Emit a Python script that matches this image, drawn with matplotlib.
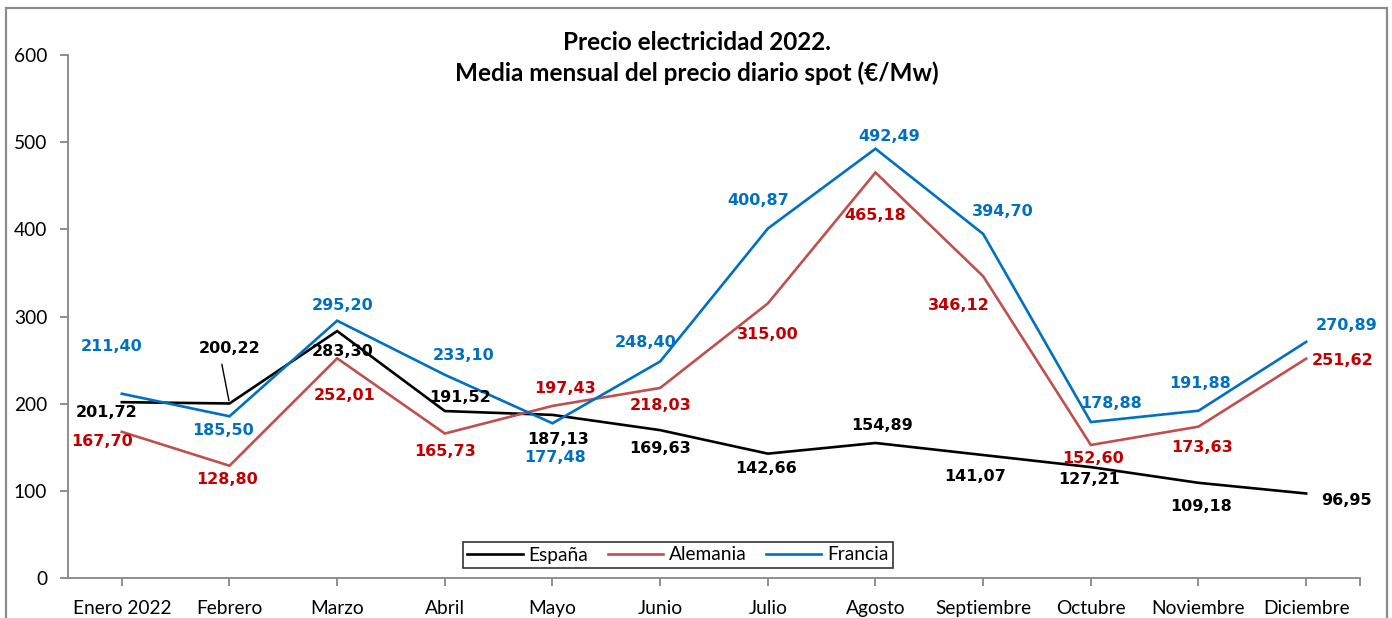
import matplotlib
matplotlib.use("Agg")
import matplotlib.pyplot as plt
from matplotlib.patches import Rectangle

months = ["Enero 2022", "Febrero", "Marzo", "Abril", "Mayo", "Junio", "Julio",
          "Agosto", "Septiembre", "Octubre", "Noviembre", "Diciembre"]
espana = [201.72, 200.22, 283.30, 191.52, 187.13, 169.63, 142.66, 154.89, 141.07, 127.21, 109.18, 96.95]
alemania = [167.70, 128.80, 252.01, 165.73, 197.43, 218.03, 315.00, 465.18, 346.12, 152.60, 173.63, 251.62]
francia = [211.40, 185.50, 295.20, 233.10, 177.48, 248.40, 400.87, 492.49, 394.70, 178.88, 191.88, 270.89]

# label offsets in pixels (dx, dy) relative to each point
off_esp = [(-15, -10), (0, 55), (5, -20), (15, 14), (6, -25), (0, -18),
           (-2, -15), (7, 17), (-8, -21), (-2, -12), (3, -24), (40, -7)]
off_ale = [(-20, -10), (-2, -14), (7, -37), (0, -18), (13, 17), (0, -18),
           (0, -31), (0, -43), (-24, -29), (2, -14), (4, -21), (36, -2)]
off_fra = [(-10, 47), (-6, -14), (5, 15), (19, 19), (3, -34), (-15, 19),
           (-10, 28), (14, 12), (20, 22), (20, 19), (2, 27), (40, 16)]

series = [
    ("España", espana, "black", "black", off_esp),
    ("Alemania", alemania, "#C0504D", "#C00000", off_ale),
    ("Francia", francia, "#0070C0", "#0070C0", off_fra),
]

fig = plt.figure(figsize=(13.92, 6.18), dpi=100)
ax = fig.add_axes([68 / 1392, 40 / 618, 1292 / 1392, 523 / 618])

x = list(range(len(months)))
for name, vals, lc, tc, offs in series:
    ax.plot(x, vals, color=lc, lw=1.9, label=name, solid_joinstyle="miter")
    for i, v in enumerate(vals):
        dx, dy = offs[i]
        txt = f"{v:.2f}".replace(".", ",")
        if name == "España" and i == 1:
            ax.annotate(txt, (i, v), xytext=(dx, dy), textcoords="offset pixels",
                        ha="center", va="center", fontsize=11.5, fontweight="bold",
                        color=tc, family="DejaVu Sans",
                        arrowprops=dict(arrowstyle="-", color="black", lw=1,
                                        shrinkA=4, shrinkB=2, relpos=(0.35, 0)))
        else:
            ax.annotate(txt, (i, v), xytext=(dx, dy), textcoords="offset pixels",
                        ha="center", va="center", fontsize=11.5, fontweight="bold",
                        color=tc, family="DejaVu Sans")

ax.set_xlim(-0.5, 11.5)
ax.set_ylim(0, 600)
ax.set_yticks(range(0, 601, 100))
ax.set_xticks(x + [11.5])
ax.set_xticklabels(months + [""])
for s in ["top", "right"]:
    ax.spines[s].set_visible(False)
for s in ["left", "bottom"]:
    ax.spines[s].set_color("#868686")
    ax.spines[s].set_linewidth(1.3)
ax.tick_params(axis="both", colors="#868686", length=6, width=1.3, direction="out")
ax.tick_params(axis="y", labelcolor="black", labelsize=13.8, pad=9)
ax.tick_params(axis="x", labelcolor="black", labelsize=13.8, pad=9.5)
for lab in ax.get_xticklabels() + ax.get_yticklabels():
    lab.set_family("Lato")

leg = ax.legend(loc="center", bbox_to_anchor=(678 / 1392, (618 - 555) / 618),
                bbox_transform=fig.transFigure, ncol=3, frameon=True, fancybox=False,
                prop={"family": "Lato", "size": 13.8}, handlelength=2.9,
                columnspacing=1.0, handletextpad=0.3, borderpad=0.25)
leg.get_frame().set_edgecolor("black")
leg.get_frame().set_linewidth(1.2)

fig.text(697 / 1392, 1 - 42 / 618, "Precio electricidad 2022.", ha="center", va="center",
         fontsize=17.5, fontweight="bold", family="Lato")
fig.text(697 / 1392, 1 - 73 / 618, "Media mensual del precio diario spot (€/Mw)", ha="center",
         va="center", fontsize=17.5, fontweight="bold", family="Lato")

fig.patches.append(Rectangle((6 / 1392, -0.05), 1381 / 1392, 1.05 - 8 / 618,
                             transform=fig.transFigure, fill=False,
                             edgecolor="#8C8C8C", lw=1.6))

fig.savefig("out.png", dpi=100)
